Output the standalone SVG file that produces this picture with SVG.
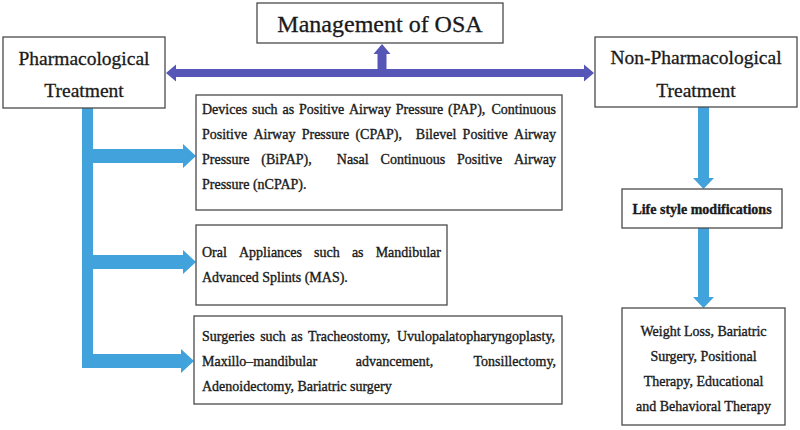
<svg xmlns="http://www.w3.org/2000/svg" width="800" height="430" viewBox="0 0 800 430">
<style>
.box{fill:#fff;stroke:#4a4a4a;stroke-width:1.3}
.h{font-family:"Liberation Serif","Times New Roman",serif;fill:#1a1a1a;stroke:#1a1a1a;stroke-width:0.3;text-anchor:middle}
.t{font-family:"Liberation Serif","Times New Roman",serif;font-size:14px;fill:#1a1a1a;stroke:#1a1a1a;stroke-width:0.35}
.c{text-anchor:middle}
.purple{fill:#5656b6}
.blue{fill:#42a3dc}
</style>
<rect width="800" height="430" fill="#fff"/>
<g id="connectors">
<polygon class="purple" points="166,73 176,64.5 176,69 584,69 584,64.5 594,73 584,81.5 584,77 176,77 176,81.5"/>
<polygon class="purple" points="382,44 390.5,54 386.5,54 386.5,70 377.5,70 377.5,54 373.5,54"/>
<rect class="blue" x="82" y="107" width="11" height="261"/>
<polygon class="blue" points="82,149 183,149 183,144 196,156 183,168 183,163 82,163"/>
<polygon class="blue" points="82,255 183,255 183,250 196,262 183,274 183,269 82,269"/>
<polygon class="blue" points="82,354 181,354 181,349 194,361 181,373 181,368 82,368"/>
<polygon class="blue" points="698,107 709,107 709,178 714,178 703.5,189 693,178 698,178"/>
<polygon class="blue" points="698,228 709,228 709,297 714,297 703.5,308 693,297 698,297"/>
</g>
<g id="management">
<rect class="box" x="257" y="3" width="246" height="40"/>
<text class="h" x="380" y="32" font-size="24">Management of OSA</text>
</g>
<g id="pharmacological">
<rect class="box" x="3" y="37" width="162" height="71"/>
<text class="h" x="84" y="65" font-size="19.5">Pharmacological</text>
<text class="h" x="84" y="97" font-size="19.5">Treatment</text>
</g>
<g id="non-pharmacological">
<rect class="box" x="595" y="37" width="202" height="70"/>
<text class="h" x="696" y="64" font-size="19.5">Non-Pharmacological</text>
<text class="h" x="696" y="97" font-size="19.5">Treatment</text>
</g>
<g id="devices">
<rect class="box" x="196" y="95" width="366" height="115"/>
<text class="t" y="114"><tspan x="202">Devices</tspan><tspan x="251.95">such</tspan><tspan x="282.47">as</tspan><tspan x="298.99">Positive</tspan><tspan x="348.97">Airway</tspan><tspan x="395.81">Pressure</tspan><tspan x="448.1">(PAP),</tspan><tspan x="491.46">Continuous</tspan></text>
<text class="t" y="139"><tspan x="202">Positive</tspan><tspan x="253.42">Airway</tspan><tspan x="301.7">Pressure</tspan><tspan x="355.43">(CPAP),</tspan><tspan x="415.86">Bilevel</tspan><tspan x="462.6">Positive</tspan><tspan x="514.02">Airway</tspan></text>
<text class="t" y="164"><tspan x="202">Pressure</tspan><tspan x="261.31">(BiPAP),</tspan><tspan x="336.8">Nasal</tspan><tspan x="380.56">Continuous</tspan><tspan x="457.01">Positive</tspan><tspan x="514.01">Airway</tspan></text>
<text class="t" x="202" y="189">Pressure (nCPAP).</text>
</g>
<g id="oral">
<rect class="box" x="196" y="225" width="251" height="80"/>
<text class="t" y="257"><tspan x="202">Oral</tspan><tspan x="239">Appliances</tspan><tspan x="314.11">such</tspan><tspan x="351.89">as</tspan><tspan x="375.67">Mandibular</tspan></text>
<text class="t" x="202" y="282">Advanced Splints (MAS).</text>
</g>
<g id="surgeries">
<rect class="box" x="194" y="316" width="368" height="88"/>
<text class="t" y="341"><tspan x="202">Surgeries</tspan><tspan x="260.17">such</tspan><tspan x="291.12">as</tspan><tspan x="308.07">Tracheostomy,</tspan><tspan x="396.95">Uvulopalatopharyngoplasty,</tspan></text>
<text class="t" y="366"><tspan x="202">Maxillo–mandibular</tspan><tspan x="355.8">advancement,</tspan><tspan x="556" text-anchor="end">Tonsillectomy,</tspan></text>
<text class="t" x="202" y="391">Adenoidectomy, Bariatric surgery</text>
</g>
<g id="lifestyle">
<rect class="box" x="622" y="189" width="160" height="39"/>
<text class="t c" x="702" y="214" font-weight="bold" stroke-width="0.2">Life style modifications</text>
</g>
<g id="weight">
<rect class="box" x="622" y="308" width="163" height="117"/>
<text class="t c" x="703.5" y="336">Weight Loss, Bariatric</text>
<text class="t c" x="703.5" y="361">Surgery, Positional</text>
<text class="t c" x="703.5" y="386">Therapy, Educational</text>
<text class="t c" x="703.5" y="411">and Behavioral Therapy</text>
</g>
</svg>
